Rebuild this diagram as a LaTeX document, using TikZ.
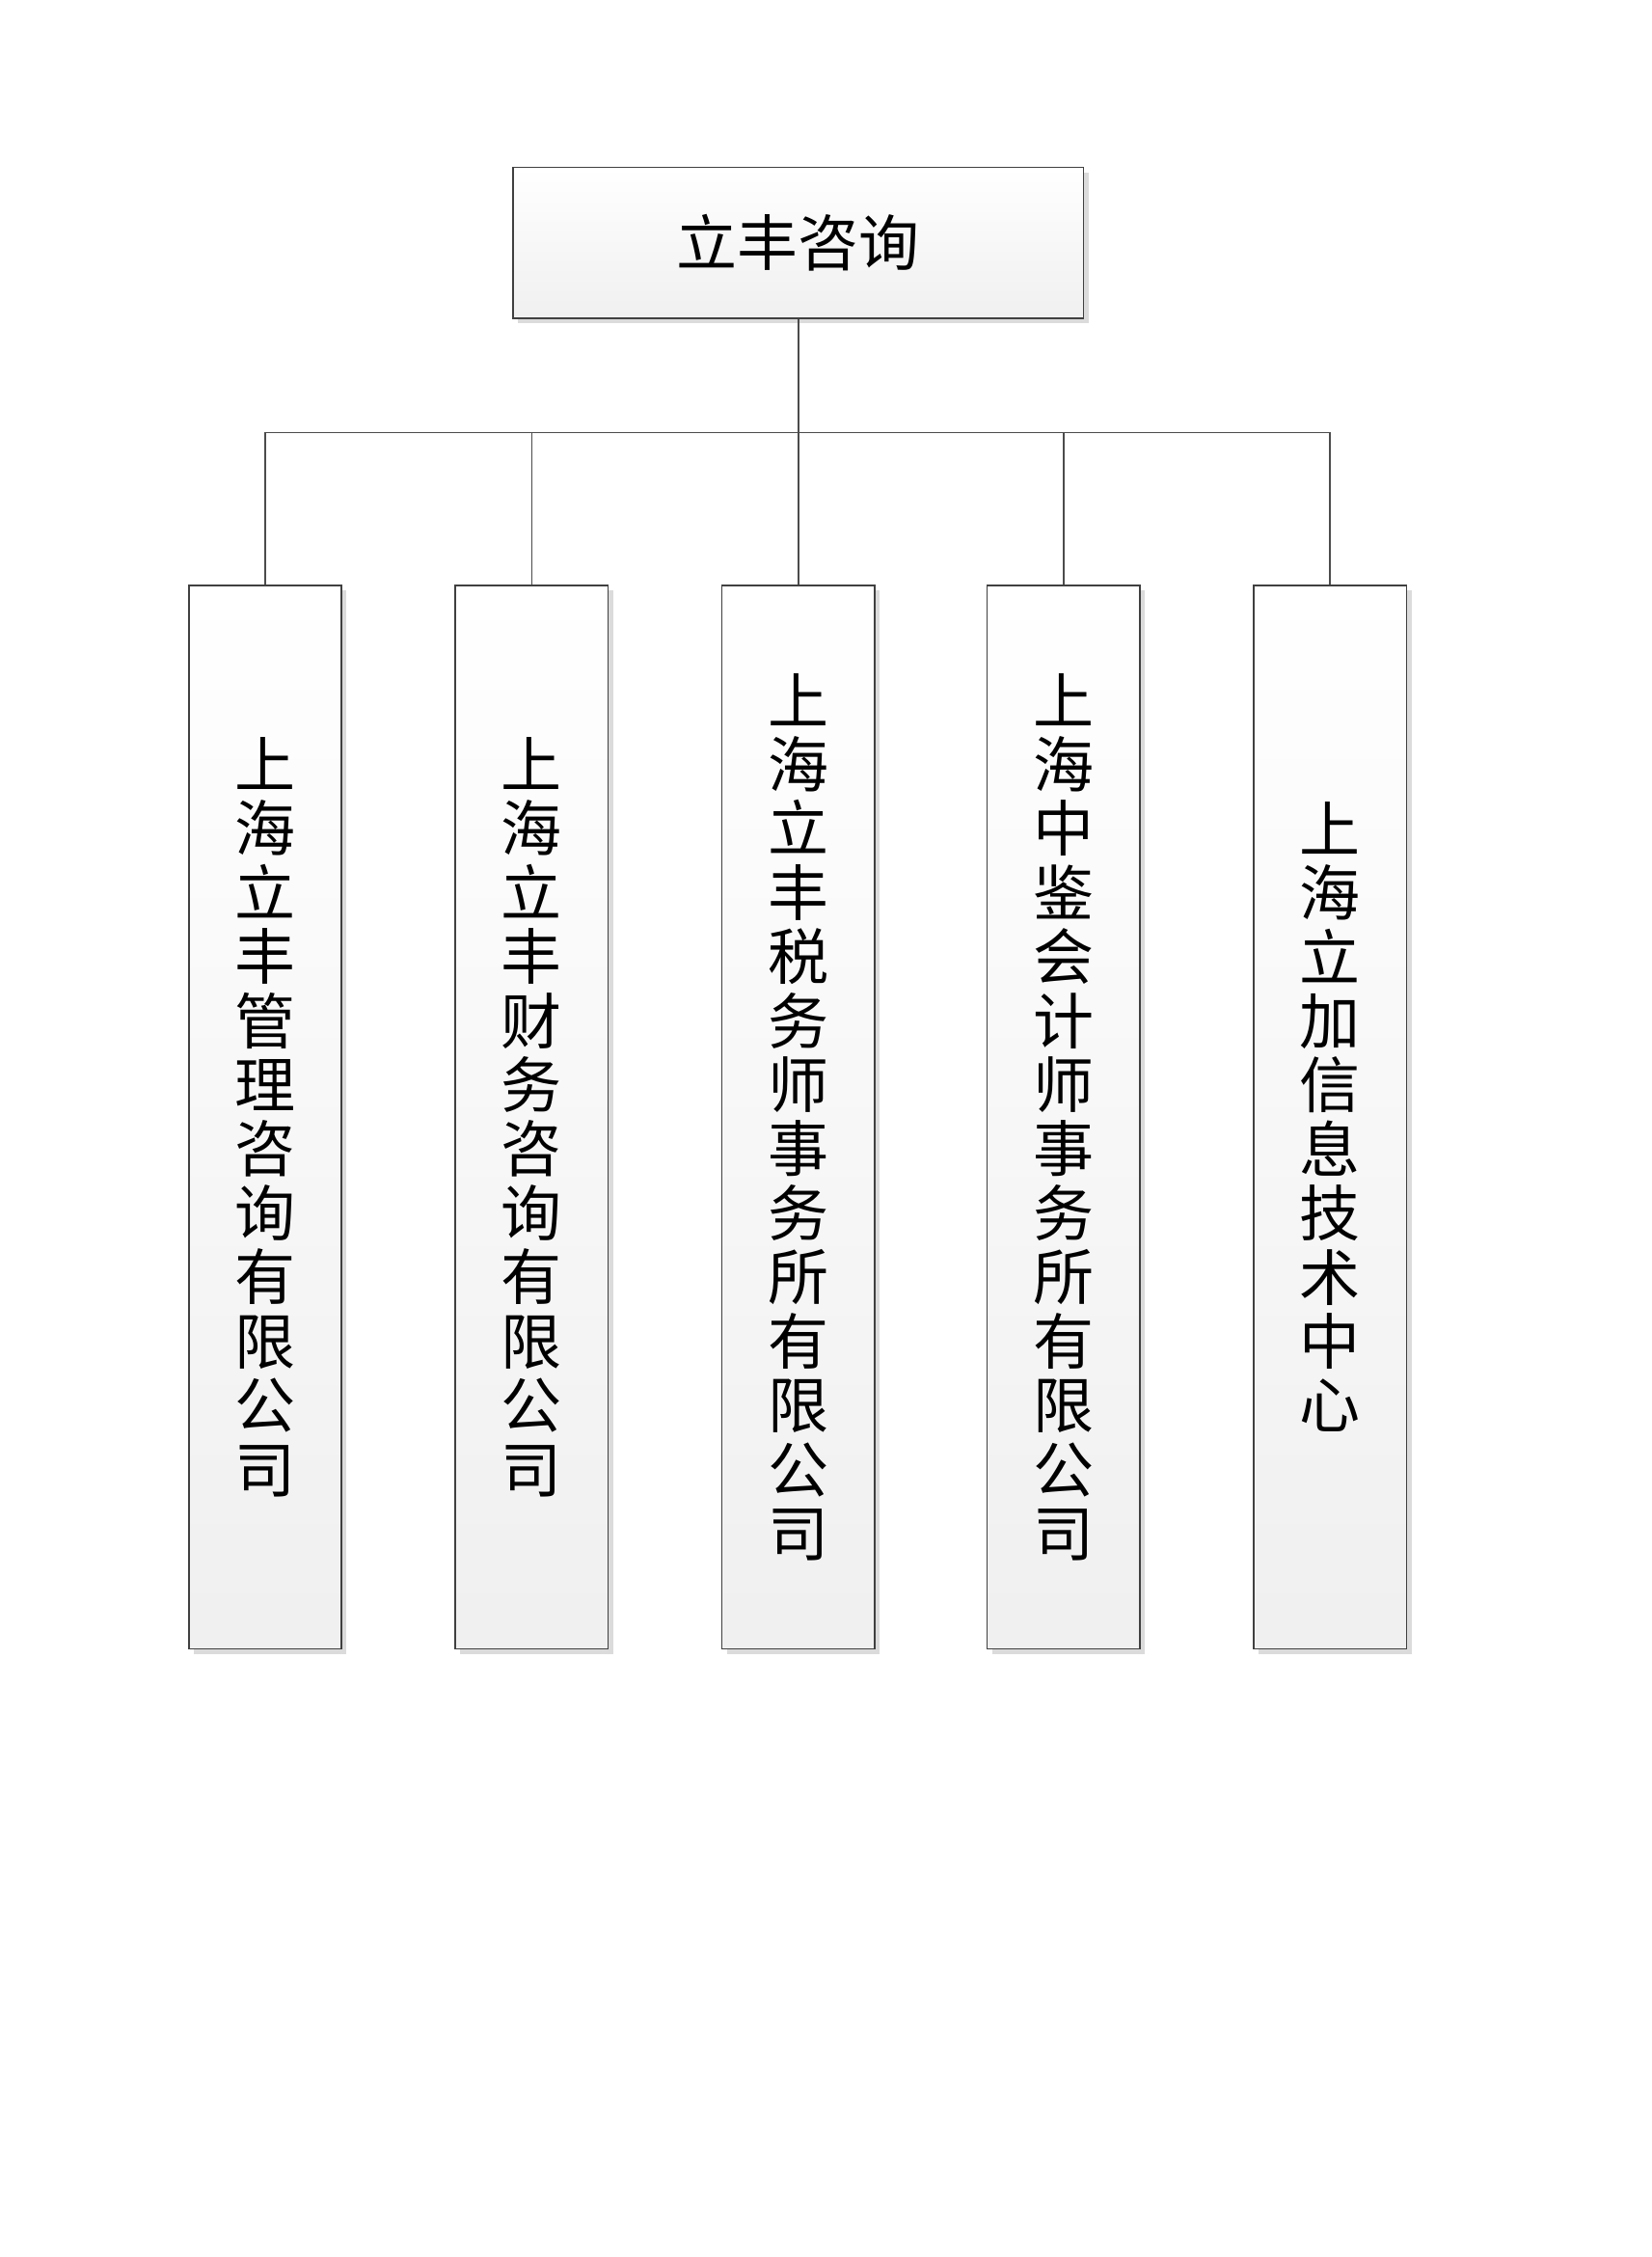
\documentclass[tikz,border=0pt]{standalone}
\usepackage{fontspec}
\newfontfamily\cjk{Noto Sans CJK SC}
\usetikzlibrary{shadows}

\begin{document}
\begin{tikzpicture}[x=0.02cm,y=0.02cm,
		orgbox/.style={draw=black!75,line width=0.6pt,shade,top color=white,bottom color=black!6,
			drop shadow={shadow xshift=0.07cm,shadow yshift=-0.07cm,fill=black!14,opacity=1},
			inner sep=0pt,align=center,font=\cjk\fontsize{24pt}{25.3pt}\selectfont},
		link/.style={draw=black!70,line width=0.6pt}]
		\useasboundingbox (0,0) rectangle (1146,-1566);
		\node[orgbox,minimum width=7.92cm,minimum height=2.1cm](head) at (554,-168.5) {立丰咨询};
		\coordinate (bus) at (554,-300);
		\node[orgbox,minimum width=2.12cm,minimum height=14.76cm](c1) at (184,-775) {上\\海\\立\\丰\\管\\理\\咨\\询\\有\\限\\公\\司};
		\node[orgbox,minimum width=2.12cm,minimum height=14.76cm](c2) at (369,-775) {上\\海\\立\\丰\\财\\务\\咨\\询\\有\\限\\公\\司};
		\node[orgbox,minimum width=2.12cm,minimum height=14.76cm](c3) at (554,-775) {上\\海\\立\\丰\\税\\务\\师\\事\\务\\所\\有\\限\\公\\司};
		\node[orgbox,minimum width=2.12cm,minimum height=14.76cm](c4) at (738,-775) {上\\海\\中\\鉴\\会\\计\\师\\事\\务\\所\\有\\限\\公\\司};
		\node[orgbox,minimum width=2.12cm,minimum height=14.76cm](c5) at (923,-775) {上\\海\\立\\加\\信\\息\\技\\术\\中\\心};
		\draw[link] (head.south) -- (bus);
		\foreach \i in {1,...,5}
			\draw[link] (bus) -| (c\i.north);
	\end{tikzpicture}
\end{document}
